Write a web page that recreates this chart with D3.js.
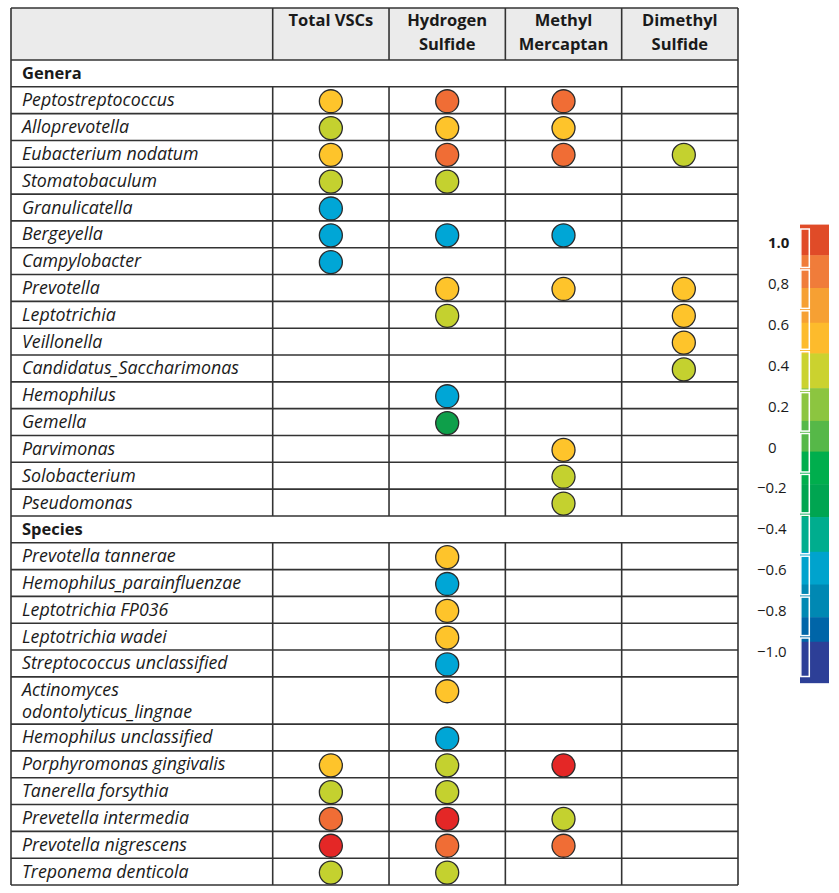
<!DOCTYPE html>
<html>
<head>
<meta charset="utf-8">
<script src="https://cdn.jsdelivr.net/npm/d3@7"></script>
<style>
  body { margin: 0; background: #fff; }
  text { font-family: "Open Sans", sans-serif; fill: #1a1a1a; }
</style>
</head>
<body>
<svg id="canvas" width="839" height="893"></svg>
<script>
const compounds = ["Total VSCs", "Hydrogen\nSulfide", "Methyl\nMercaptan", "Dimethyl\nSulfide"];

const genera = ["Peptostreptococcus", "Alloprevotella", "Eubacterium nodatum", "Stomatobaculum",
  "Granulicatella", "Bergeyella", "Campylobacter", "Prevotella", "Leptotrichia", "Veillonella",
  "Candidatus_Saccharimonas", "Hemophilus", "Gemella", "Parvimonas", "Solobacterium", "Pseudomonas"];

const species = ["Prevotella tannerae", "Hemophilus_parainfluenzae", "Leptotrichia FP036",
  "Leptotrichia wadei", "Streptococcus unclassified", "Actinomyces\nodontolyticus_lingnae",
  "Hemophilus unclassified", "Porphyromonas gingivalis", "Tanerella forsythia",
  "Prevetella intermedia", "Prevotella nigrescens", "Treponema denticola"];

// correlation values (null = no dot)
const generaTotal = [0.55, 0.4, 0.55, 0.4, -0.6, -0.6, -0.6, null, null, null, null, null, null, null, null, null];
const generaH2S   = [0.75, 0.55, 0.75, 0.4, null, -0.6, null, 0.55, 0.4, null, null, -0.6, -0.2, null, null, null];
const generaMM    = [0.75, 0.55, 0.75, null, null, -0.6, null, 0.55, null, null, null, null, null, 0.55, 0.4, 0.4];
const generaDMS   = [null, null, 0.4, null, null, null, null, 0.55, 0.55, 0.55, 0.4, null, null, null, null, null];

const speciesTotal = [null, null, null, null, null, null, null, 0.55, 0.4, 0.75, 0.9, 0.4];
const speciesH2S   = [0.55, -0.6, 0.55, 0.55, -0.6, 0.55, -0.6, 0.4, 0.4, 0.9, 0.75, 0.4];
const speciesMM    = [null, null, null, null, null, null, null, 0.9, null, 0.4, 0.75, null];
const speciesDMS   = [null, null, null, null, null, null, null, null, null, null, null, null];

const legendTicks = [1.0, 0.8, 0.6, 0.4, 0.2, 0, -0.2, -0.4, -0.6, -0.8, -1.0];
const legendTickLabels = ["1.0", "0,8", "0.6", "0.4", "0.2", "0", "\u22120.2", "\u22120.4", "\u22120.6", "\u22120.8", "\u22121.0"];
const legendEdges = [1.09, 0.94, 0.78, 0.61, 0.46, 0.29, 0.13, -0.02, -0.18, -0.34, -0.51, -0.67, -0.83, -0.95, -1.15];
const legendColors = ["#e04b28", "#f07c3a", "#f6a033", "#fdbb2c", "#cbd22f", "#8cc540", "#56b848",
  "#00ae4d", "#00a551", "#00ad8e", "#00a3cd", "#0088b3", "#0065a8", "#2d3f97"];

const dotColor = d3.scaleThreshold()
  .domain([-0.4, 0, 0.45, 0.65, 0.85])
  .range(["#00a6d6", "#0e9f4a", "#c4d12f", "#fec42b", "#f06d35", "#e42726"]);

// build table rows
let rows = [];
rows.push({ label: "Genera", section: true });
genera.forEach((g, i) => rows.push({ label: g, values: [generaTotal[i], generaH2S[i], generaMM[i], generaDMS[i]] }));
rows.push({ label: "Species", section: true });
species.forEach((s, i) => rows.push({ label: s, values: [speciesTotal[i], speciesH2S[i], speciesMM[i], speciesDMS[i]] }));

let acc = 0;
rows.forEach(r => {
  r.units = r.label.includes("\n") ? 1.76 : 1;
  r.start = acc;
  acc += r.units;
});

const canvas = d3.select("#canvas");

const tLeft = 11, tRight = 738, tTop = 8, headBottom = 60, tBottom = 885;
const y = d3.scaleLinear().domain([0, acc]).range([headBottom, tBottom]);
const x = d3.scaleBand().domain(compounds).range([272.7, tRight]);
const lineColor = "#333";

// header background
canvas.append("rect")
  .attr("x", tLeft).attr("y", tTop)
  .attr("width", tRight - tLeft).attr("height", headBottom - tTop)
  .attr("fill", "#ebebeb");

// header text
compounds.forEach(c => {
  let lines = c.split("\n");
  let t = canvas.append("text")
    .attr("text-anchor", "middle")
    .attr("font-weight", "bold")
    .attr("font-size", 16.5);
  lines.forEach((ln, i) => {
    t.append("tspan")
      .attr("x", x(c) + x.bandwidth() / 2)
      .attr("y", 26 + i * 24)
      .text(ln);
  });
});

// horizontal lines
let hLines = [tTop, headBottom].concat(rows.map(r => y(r.start + r.units)));
canvas.selectAll("line.h").data(hLines).enter().append("line")
  .attr("class", "h")
  .attr("x1", tLeft).attr("x2", tRight)
  .attr("y1", d => d).attr("y2", d => d)
  .attr("stroke", lineColor).attr("stroke-width", 1.6);

// vertical outer lines
[tLeft, tRight].forEach(xx => {
  canvas.append("line")
    .attr("x1", xx).attr("x2", xx).attr("y1", tTop).attr("y2", tBottom)
    .attr("stroke", lineColor).attr("stroke-width", 1.6);
});

// column lines, skipped in section rows
compounds.forEach(c => {
  let xx = x(c);
  canvas.append("line")
    .attr("x1", xx).attr("x2", xx).attr("y1", tTop).attr("y2", headBottom)
    .attr("stroke", lineColor).attr("stroke-width", 1.6);
  rows.filter(r => !r.section).forEach(r => {
    canvas.append("line")
      .attr("x1", xx).attr("x2", xx)
      .attr("y1", y(r.start)).attr("y2", y(r.start + r.units))
      .attr("stroke", lineColor).attr("stroke-width", 1.6);
  });
});

// row labels
rows.forEach(r => {
  let lines = r.label.split("\n");
  let rowTop = y(r.start);
  let firstMid = lines.length > 1 ? rowTop + 13.4 : (rowTop + y(r.start + r.units)) / 2;
  let t = canvas.append("text")
    .attr("font-size", r.section ? 16.5 : 17.8)
    .attr("font-style", r.section ? "normal" : "italic")
    .attr("font-weight", r.section ? "bold" : "normal");
  lines.forEach((ln, i) => {
    t.append("tspan")
      .attr("x", 22)
      .attr("y", firstMid + 6 + i * 22)
      .text(ln);
  });
  r.dotY = firstMid + 1;
});

// dots
rows.filter(r => !r.section).forEach(r => {
  r.values.forEach((v, i) => {
    if (v === null) return;
    canvas.append("circle")
      .attr("cx", x(compounds[i]) + x.bandwidth() / 2 + (i === 3 ? 4 : 0))
      .attr("cy", r.dotY)
      .attr("r", 11.5)
      .attr("fill", dotColor(v))
      .attr("stroke", "#2b2b2b")
      .attr("stroke-width", 1.3);
  });
});

// legend
const ly = d3.scaleLinear().domain([1, -1]).range([243, 652]);
const lx = 800, lw = 29;
const legend = canvas.append("g").attr("id", "legend");

legend.selectAll("rect.band").data(legendColors).enter().append("rect")
  .attr("class", "band")
  .attr("x", lx).attr("width", lw)
  .attr("y", (d, i) => ly(legendEdges[i]))
  .attr("height", (d, i) => ly(legendEdges[i + 1]) - ly(legendEdges[i]) + 0.5)
  .attr("fill", d => d);

legend.selectAll("rect.bracket").data(legendTicks).enter().append("rect")
  .attr("class", "bracket")
  .attr("x", lx + 0.8).attr("width", 8.5)
  .attr("y", d => ly(d) - 14)
  .attr("height", 38.5)
  .attr("fill", "none")
  .attr("stroke", "#fff")
  .attr("stroke-width", 1.5);

legend.selectAll("text").data(legendTicks).enter().append("text")
  .attr("x", (d, i) => d < 0 ? 757 : 768)
  .attr("y", d => ly(d) + 5)
  .attr("font-size", 15)
  .attr("font-weight", (d, i) => i === 0 ? "bold" : "normal")
  .text((d, i) => legendTickLabels[i]);
</script>
</body>
</html>
